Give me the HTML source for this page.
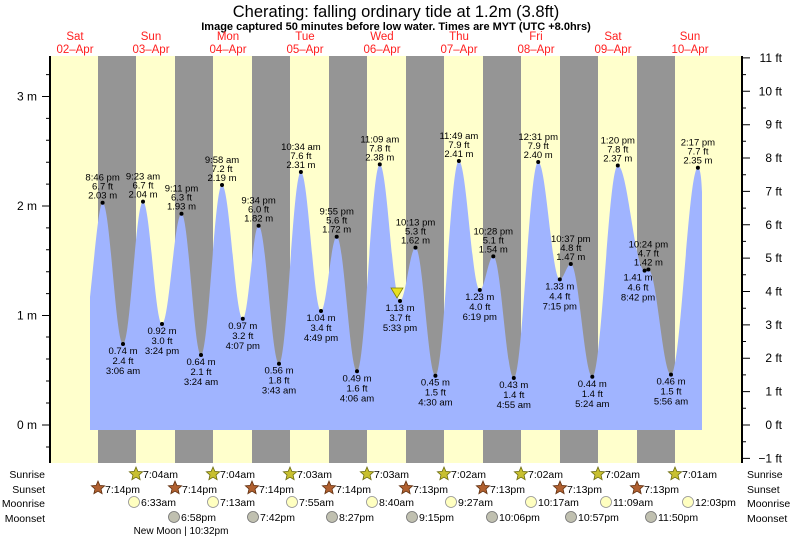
<!DOCTYPE html>
<html><head><meta charset="utf-8"><style>
html,body{margin:0;padding:0;background:#fff;}
svg{display:block;font-family:"Liberation Sans",sans-serif;}
</style></head><body>
<svg width="793" height="538" viewBox="0 0 793 538" xmlns="http://www.w3.org/2000/svg">
<defs>
<polygon id="star" points="0,-7 1.88,-2.59 6.66,-2.16 3.04,0.99 4.11,5.66 0,3.2 -4.11,5.66 -3.04,0.99 -6.66,-2.16 -1.88,-2.59"/>
</defs>
<text x="396" y="17" text-anchor="middle" font-size="16.5" fill="#000">Cherating: falling  ordinary tide at 1.2m (3.8ft)</text>
<text x="396" y="30" text-anchor="middle" font-size="11" font-weight="bold" fill="#000">Image captured 50 minutes before low water. Times are MYT (UTC +8.0hrs)</text>
<g fill="#ff2020" font-size="11.5" text-anchor="middle">
<text x="75" y="40">Sat</text><text x="75" y="53">02–Apr</text>
<text x="151" y="40">Sun</text><text x="151" y="53">03–Apr</text>
<text x="228" y="40">Mon</text><text x="228" y="53">04–Apr</text>
<text x="305" y="40">Tue</text><text x="305" y="53">05–Apr</text>
<text x="382" y="40">Wed</text><text x="382" y="53">06–Apr</text>
<text x="459" y="40">Thu</text><text x="459" y="53">07–Apr</text>
<text x="536" y="40">Fri</text><text x="536" y="53">08–Apr</text>
<text x="613" y="40">Sat</text><text x="613" y="53">09–Apr</text>
<text x="690" y="40">Sun</text><text x="690" y="53">10–Apr</text>
</g>
<rect x="50" y="56" width="692" height="407" fill="#ffffcc"/>
<g fill="#959595">
<rect x="98" y="56" width="38" height="407"/>
<rect x="175" y="56" width="38" height="407"/>
<rect x="252" y="56" width="38" height="407"/>
<rect x="329" y="56" width="38" height="407"/>
<rect x="406" y="56" width="38" height="407"/>
<rect x="483" y="56" width="38" height="407"/>
<rect x="560" y="56" width="38" height="407"/>
<rect x="637" y="56" width="38" height="407"/>
</g>
<path fill="#a0b4ff" d="M90,430 L90,297 C95,250 99,202.7 102.6,202.7
C110,202.7 115.6,344 123,344
C130.3,344 135.7,201.6 143,201.6
C149.9,201.6 155.1,324 162,324
C169.1,324 174.4,213.7 181.5,213.7
C188.6,213.7 193.9,355 201,355
C208.6,355 214.4,185 222,185
C229.6,185 235.2,318.8 242.8,318.8
C248.6,318.8 252.8,225.7 258.6,225.7
C266,225.7 271.6,363.7 279,363.7
C287,363.7 292.9,172 300.9,172
C308.2,172 313.7,311 321,311
C326.7,311 331,236.7 336.7,236.7
C344.1,236.7 349.6,371.3 357,371.3
C365.3,371.3 371.5,164.4 379.8,164.4
C387.2,164.4 392.6,301 400,301
C405.6,301 409.9,247.6 415.5,247.6
C422.7,247.6 428.2,375.7 435.4,375.7
C444,375.7 450.3,161 458.9,161
C466.5,161 472.2,290 479.8,290
C484.7,290 488.4,256.4 493.3,256.4
C500.8,256.4 506.3,378 513.8,378
C522.7,378 529.3,162 538.2,162
C546.1,162 551.9,279.4 559.8,279.4
C563.8,279.4 566.8,264 570.8,264
C578.6,264 584.5,376.8 592.3,376.8
C601.6,376.8 608.5,165.5 617.8,165.5
C627.6,165.5 634.8,270.6 644.6,270.6
C646,270.6 647,269.5 648.4,269.5
C656.6,269.5 662.8,374.6 671,374.6
C680.8,374.6 688.1,167.7 697.9,167.7
C700.5,167.7 701.5,180 702,192 L702,430 Z"/>
<g stroke="#000" fill="none">
<line x1="50" y1="56" x2="50" y2="463" stroke-width="2"/>
<line x1="742" y1="56" x2="742" y2="463" stroke-width="2"/>
<path stroke-width="1" d="M42,425H50M42,315.5H50M42,206H50M42,96.5H50
M46,447H50M46,403H50M46,381H50M46,359H50M46,337H50M46,293.6H50M46,271.7H50M46,249.8H50M46,227.9H50M46,184.1H50M46,162.2H50M46,140.3H50M46,118.4H50M46,74.6H50"/>
<path stroke-width="1" d="M742,458.4H750M742,425H750M742,391.6H750M742,358.2H750M742,324.9H750M742,291.5H750M742,258.1H750M742,224.8H750M742,191.4H750M742,158H750M742,124.7H750M742,91.3H750M742,57.9H750
M742,441.7H746M742,408.3H746M742,374.9H746M742,341.5H746M742,308.2H746M742,274.8H746M742,241.4H746M742,208.1H746M742,174.7H746M742,141.3H746M742,108H746M742,74.6H746"/>
</g>
<g font-size="12" fill="#000" text-anchor="end">
<text x="37" y="429">0 m</text><text x="37" y="319.5">1 m</text><text x="37" y="210">2 m</text><text x="37" y="100.5">3 m</text>
<text x="782" y="462.4">−1 ft</text><text x="782" y="429">0 ft</text><text x="782" y="395.6">1 ft</text><text x="782" y="362.2">2 ft</text><text x="782" y="328.9">3 ft</text><text x="782" y="295.5">4 ft</text><text x="782" y="262.1">5 ft</text><text x="782" y="228.8">6 ft</text><text x="782" y="195.4">7 ft</text><text x="782" y="162">8 ft</text><text x="782" y="128.7">9 ft</text><text x="782" y="95.3">10 ft</text><text x="782" y="61.9">11 ft</text>
</g>
<g fill="#000">
<circle cx="102.6" cy="202.7" r="2"/><circle cx="123" cy="344" r="2"/><circle cx="143" cy="201.6" r="2"/><circle cx="162" cy="324" r="2"/><circle cx="181.5" cy="213.7" r="2"/><circle cx="201" cy="355" r="2"/><circle cx="222" cy="185" r="2"/><circle cx="242.8" cy="318.8" r="2"/><circle cx="258.6" cy="225.7" r="2"/><circle cx="279" cy="363.7" r="2"/><circle cx="300.9" cy="172" r="2"/><circle cx="321" cy="311" r="2"/><circle cx="336.7" cy="236.7" r="2"/><circle cx="357" cy="371.3" r="2"/><circle cx="379.8" cy="164.4" r="2"/><circle cx="400" cy="301" r="2"/><circle cx="415.5" cy="247.6" r="2"/><circle cx="435.4" cy="375.7" r="2"/><circle cx="458.9" cy="161" r="2"/><circle cx="479.8" cy="290" r="2"/><circle cx="493.3" cy="256.4" r="2"/><circle cx="513.8" cy="378" r="2"/><circle cx="538.2" cy="162" r="2"/><circle cx="559.8" cy="279.4" r="2"/><circle cx="570.8" cy="264" r="2"/><circle cx="592.3" cy="376.8" r="2"/><circle cx="617.8" cy="165.5" r="2"/><circle cx="644.6" cy="270.6" r="2"/><circle cx="648.4" cy="269.5" r="2"/><circle cx="671" cy="374.6" r="2"/><circle cx="697.9" cy="167.7" r="2"/>
</g>
<polygon points="391,288 403,288 397,298" fill="#e8e020" stroke="#808000" stroke-width="0.8"/>
<g font-size="9.5" fill="#000" text-anchor="middle">
<text y="180.7"><tspan x="102.6">8:46 pm</tspan><tspan x="102.6" dy="9">6.7 ft</tspan><tspan x="102.6" dy="9">2.03 m</tspan></text>
<text y="354"><tspan x="123">0.74 m</tspan><tspan x="123" dy="10">2.4 ft</tspan><tspan x="123" dy="10">3:06 am</tspan></text>
<text y="179.6"><tspan x="143">9:23 am</tspan><tspan x="143" dy="9">6.7 ft</tspan><tspan x="143" dy="9">2.04 m</tspan></text>
<text y="334"><tspan x="162">0.92 m</tspan><tspan x="162" dy="10">3.0 ft</tspan><tspan x="162" dy="10">3:24 pm</tspan></text>
<text y="191.7"><tspan x="181.5">9:11 pm</tspan><tspan x="181.5" dy="9">6.3 ft</tspan><tspan x="181.5" dy="9">1.93 m</tspan></text>
<text y="365"><tspan x="201">0.64 m</tspan><tspan x="201" dy="10">2.1 ft</tspan><tspan x="201" dy="10">3:24 am</tspan></text>
<text y="163"><tspan x="222">9:58 am</tspan><tspan x="222" dy="9">7.2 ft</tspan><tspan x="222" dy="9">2.19 m</tspan></text>
<text y="328.8"><tspan x="242.8">0.97 m</tspan><tspan x="242.8" dy="10">3.2 ft</tspan><tspan x="242.8" dy="10">4:07 pm</tspan></text>
<text y="203.7"><tspan x="258.6">9:34 pm</tspan><tspan x="258.6" dy="9">6.0 ft</tspan><tspan x="258.6" dy="9">1.82 m</tspan></text>
<text y="373.7"><tspan x="279">0.56 m</tspan><tspan x="279" dy="10">1.8 ft</tspan><tspan x="279" dy="10">3:43 am</tspan></text>
<text y="150"><tspan x="300.9">10:34 am</tspan><tspan x="300.9" dy="9">7.6 ft</tspan><tspan x="300.9" dy="9">2.31 m</tspan></text>
<text y="321"><tspan x="321">1.04 m</tspan><tspan x="321" dy="10">3.4 ft</tspan><tspan x="321" dy="10">4:49 pm</tspan></text>
<text y="214.7"><tspan x="336.7">9:55 pm</tspan><tspan x="336.7" dy="9">5.6 ft</tspan><tspan x="336.7" dy="9">1.72 m</tspan></text>
<text y="381.3"><tspan x="357">0.49 m</tspan><tspan x="357" dy="10">1.6 ft</tspan><tspan x="357" dy="10">4:06 am</tspan></text>
<text y="142.4"><tspan x="379.8">11:09 am</tspan><tspan x="379.8" dy="9">7.8 ft</tspan><tspan x="379.8" dy="9">2.38 m</tspan></text>
<text y="311"><tspan x="400">1.13 m</tspan><tspan x="400" dy="10">3.7 ft</tspan><tspan x="400" dy="10">5:33 pm</tspan></text>
<text y="225.6"><tspan x="415.5">10:13 pm</tspan><tspan x="415.5" dy="9">5.3 ft</tspan><tspan x="415.5" dy="9">1.62 m</tspan></text>
<text y="385.7"><tspan x="435.4">0.45 m</tspan><tspan x="435.4" dy="10">1.5 ft</tspan><tspan x="435.4" dy="10">4:30 am</tspan></text>
<text y="139"><tspan x="458.9">11:49 am</tspan><tspan x="458.9" dy="9">7.9 ft</tspan><tspan x="458.9" dy="9">2.41 m</tspan></text>
<text y="300"><tspan x="479.8">1.23 m</tspan><tspan x="479.8" dy="10">4.0 ft</tspan><tspan x="479.8" dy="10">6:19 pm</tspan></text>
<text y="234.4"><tspan x="493.3">10:28 pm</tspan><tspan x="493.3" dy="9">5.1 ft</tspan><tspan x="493.3" dy="9">1.54 m</tspan></text>
<text y="388"><tspan x="513.8">0.43 m</tspan><tspan x="513.8" dy="10">1.4 ft</tspan><tspan x="513.8" dy="10">4:55 am</tspan></text>
<text y="140"><tspan x="538.2">12:31 pm</tspan><tspan x="538.2" dy="9">7.9 ft</tspan><tspan x="538.2" dy="9">2.40 m</tspan></text>
<text y="289.4"><tspan x="559.8">1.33 m</tspan><tspan x="559.8" dy="10">4.4 ft</tspan><tspan x="559.8" dy="10">7:15 pm</tspan></text>
<text y="242"><tspan x="570.8">10:37 pm</tspan><tspan x="570.8" dy="9">4.8 ft</tspan><tspan x="570.8" dy="9">1.47 m</tspan></text>
<text y="386.8"><tspan x="592.3">0.44 m</tspan><tspan x="592.3" dy="10">1.4 ft</tspan><tspan x="592.3" dy="10">5:24 am</tspan></text>
<text y="143.5"><tspan x="617.8">1:20 pm</tspan><tspan x="617.8" dy="9">7.8 ft</tspan><tspan x="617.8" dy="9">2.37 m</tspan></text>
<text y="280.6"><tspan x="638">1.41 m</tspan><tspan x="638" dy="10">4.6 ft</tspan><tspan x="638" dy="10">8:42 pm</tspan></text>
<text y="247.5"><tspan x="648.4">10:24 pm</tspan><tspan x="648.4" dy="9">4.7 ft</tspan><tspan x="648.4" dy="9">1.42 m</tspan></text>
<text y="384.6"><tspan x="671">0.46 m</tspan><tspan x="671" dy="10">1.5 ft</tspan><tspan x="671" dy="10">5:56 am</tspan></text>
<text y="145.7"><tspan x="697.9">2:17 pm</tspan><tspan x="697.9" dy="9">7.7 ft</tspan><tspan x="697.9" dy="9">2.35 m</tspan></text>
</g>
<g font-size="10.5" fill="#000">
<text x="45" y="478" text-anchor="end">Sunrise</text>
<text x="45" y="493" text-anchor="end">Sunset</text>
<text x="45" y="507" text-anchor="end">Moonrise</text>
<text x="45" y="522" text-anchor="end">Moonset</text>
<text x="747" y="478">Sunrise</text>
<text x="747" y="493">Sunset</text>
<text x="747" y="507">Moonrise</text>
<text x="747" y="522">Moonset</text>
</g>
<g fill="#c8c030" stroke="#6a6a10" stroke-width="0.8">
<use href="#star" x="136" y="474"/><use href="#star" x="213" y="474"/><use href="#star" x="290" y="474"/><use href="#star" x="367" y="474"/><use href="#star" x="444" y="474"/><use href="#star" x="521" y="474"/><use href="#star" x="598" y="474"/><use href="#star" x="675" y="474"/>
</g>
<g fill="#b06030" stroke="#603010" stroke-width="0.8">
<use href="#star" x="98" y="488"/><use href="#star" x="175" y="488"/><use href="#star" x="252" y="488"/><use href="#star" x="329" y="488"/><use href="#star" x="406" y="488"/><use href="#star" x="483" y="488"/><use href="#star" x="560" y="488"/><use href="#star" x="637" y="488"/>
</g>
<g fill="#ffffc0" stroke="#909090" stroke-width="0.8">
<circle cx="134" cy="502" r="5.5"/><circle cx="213" cy="502" r="5.5"/><circle cx="292" cy="502" r="5.5"/><circle cx="372" cy="502" r="5.5"/><circle cx="451" cy="502" r="5.5"/><circle cx="531" cy="502" r="5.5"/><circle cx="606" cy="502" r="5.5"/><circle cx="688" cy="502" r="5.5"/>
</g>
<g fill="#c0c0b0" stroke="#707070" stroke-width="0.8">
<circle cx="174" cy="517" r="5.5"/><circle cx="253" cy="517" r="5.5"/><circle cx="332" cy="517" r="5.5"/><circle cx="412" cy="517" r="5.5"/><circle cx="492" cy="517" r="5.5"/><circle cx="571" cy="517" r="5.5"/><circle cx="651" cy="517" r="5.5"/>
</g>
<g font-size="10.5" fill="#000">
<text x="143" y="478">7:04am</text><text x="220" y="478">7:04am</text><text x="297" y="478">7:03am</text><text x="374" y="478">7:03am</text><text x="451" y="478">7:02am</text><text x="528" y="478">7:02am</text><text x="605" y="478">7:02am</text><text x="682" y="478">7:01am</text>
<text x="105" y="493">7:14pm</text><text x="182" y="493">7:14pm</text><text x="259" y="493">7:14pm</text><text x="336" y="493">7:14pm</text><text x="413" y="493">7:13pm</text><text x="490" y="493">7:13pm</text><text x="567" y="493">7:13pm</text><text x="644" y="493">7:13pm</text>
<text x="141" y="506">6:33am</text><text x="220" y="506">7:13am</text><text x="299" y="506">7:55am</text><text x="379" y="506">8:40am</text><text x="458" y="506">9:27am</text><text x="538" y="506">10:17am</text><text x="613" y="506">11:09am</text><text x="695" y="506">12:03pm</text>
<text x="181" y="521">6:58pm</text><text x="260" y="521">7:42pm</text><text x="339" y="521">8:27pm</text><text x="419" y="521">9:15pm</text><text x="499" y="521">10:06pm</text><text x="578" y="521">10:57pm</text><text x="658" y="521">11:50pm</text>
</g>
<text x="181" y="534" font-size="10" text-anchor="middle" fill="#000">New Moon | 10:32pm</text>
</svg>
</body></html>
